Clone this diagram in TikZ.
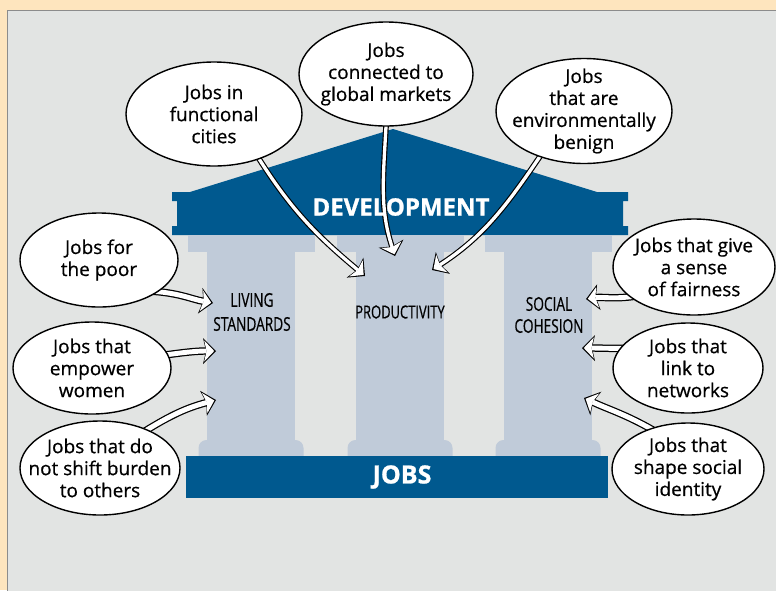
\documentclass[tikz,border=0pt]{standalone}
\usepackage{fontspec}
\setmainfont{Open Sans}[FakeBold=0.6,BoldFeatures={FakeBold=1}]
\newfontfamily\narrowfont{Open Sans}[FakeStretch=0.72,FakeBold=0.5]
\usetikzlibrary{shapes.geometric,arrows.meta}

\definecolor{pagebeige}{HTML}{FEE5BE}
\definecolor{panelgray}{HTML}{E2E4E3}
\definecolor{templeblue}{HTML}{00598F}
\definecolor{pillarblue}{HTML}{C0CBD9}

\pgfdeclarelayer{temple}
\pgfdeclarelayer{links}
\pgfsetlayers{temple,links,main}

\begin{document}
\begin{tikzpicture}[x=1pt,y=-1pt]
  \tikzset{
    bubble/.style={draw,ellipse,fill=white,line width=1.4pt,inner sep=-20pt,align=center,font=\fontsize{19}{22}\selectfont},
    pillarlabel/.style={align=center,font=\narrowfont\fontsize{19}{24}\selectfont},
    jobarrow/.style 2 args={draw=white,line width=#2,shorten >=1.8pt,shorten <=-6pt,
      -{Stealth[length=10pt,width=21pt,inset=2.4pt,line width=0pt]},
      preaction={draw=black,line width=#1,shorten >=0pt,
        -{Stealth[length=13pt,width=26pt,inset=3pt,line width=0pt]}}},
    jobarrow/.default={7.4pt}{4.9pt}
  }
  \useasboundingbox (0,0) rectangle (776,590);

%%%%%%%%%%%%%%%%%%%%%%%%%%
% TEMPLE
\begin{pgfonlayer}{temple}
  \fill[pagebeige] (0,0) rectangle (776,590);
  \filldraw[fill=panelgray,draw=black!45,line width=1.2pt] (7.5,10.5) rectangle (790,600);

  % roof and frieze
  \fill[templeblue] (190,192) -- (393,129) -- (597,192) -- cycle;
  \fill[templeblue] (172,192) -- (628,192) -- (628,201) -- (623,201) -- (623,226) -- (628,226)
    -- (628,235) -- (172,235) -- (172,226) -- (177,226) -- (177,201) -- (172,201) -- cycle;

  % pillars
  \foreach \cx in {251,400,548} {
    \fill[pillarblue] (\cx-63.5,235) rectangle (\cx+63.5,252);
    \fill[pillarblue] (\cx-44,251) rectangle (\cx+44,448);
    \fill[pillarblue,rounded corners=8pt] (\cx-52.5,440) rectangle (\cx+52.5,466);
  }

  % base
  \fill[templeblue] (186,456) rectangle (608,498);
\end{pgfonlayer}

\node[text=white,font=\bfseries\fontsize{24}{24}\selectfont] (NDevelopment) at (401,207) {DEVELOPMENT};
\node[text=white,font=\bfseries\fontsize{25}{25}\selectfont] (NJobs) at (402,477) {JOBS};

\node[pillarlabel] (ls) at (252,312) {LIVING\\STANDARDS};
\node[pillarlabel,font=\narrowfont\fontsize{18}{22}\selectfont] (prod) at (400,312) {PRODUCTIVITY};
\node[pillarlabel,font=\narrowfont\fontsize{19}{22}\selectfont] (sc) at (549,315) {SOCIAL\\COHESION};

%%%%%%%%%%%%%%%%%%%%%%%%%%
% TOP
\node[bubble,minimum width=176pt,minimum height=104pt] (cities) at (214,114) {Jobs in\\functional\\cities};
\node[bubble,minimum width=174pt,minimum height=104pt] (markets) at (386,74) {Jobs\\connected to\\global markets};
\node[bubble,minimum width=176pt,minimum height=105pt] (benign) at (584,111) {Jobs\\that are\\environmentally\\benign};

% LEFT
\node[bubble,minimum width=158pt,minimum height=94pt] (poor) at (99,260) {Jobs for\\the poor};
\node[bubble,minimum width=158pt,minimum height=92pt] (women) at (92,368) {Jobs that\\empower\\women};
\node[bubble,minimum width=160pt,minimum height=94pt] (burden) at (100,468) {Jobs that do\\not shift burden\\to others};

% RIGHT
\node[bubble,minimum width=162pt,minimum height=96pt] (fairness) at (694,267) {Jobs that give\\a sense\\of fairness};
\node[bubble,minimum width=150pt,minimum height=90pt] (networks) at (688,368) {Jobs that\\link to\\networks};
\node[bubble,minimum width=152pt,minimum height=92pt] (identity) at (688,469) {Jobs that\\shape social\\identity};

%%%%%%%%%%%%%%%%%%%%%%%%%%
% tips
\coordinate (ls1) at (213,303);
\coordinate (ls2) at (216,351);
\coordinate (ls3) at (216,400);
\coordinate (pr1) at (365,276);
\coordinate (pr2) at (395,256);
\coordinate (pr3) at (432,270);
\coordinate (sc1) at (586,299);
\coordinate (sc2) at (582,348);
\coordinate (sc3) at (584,398);

\begin{pgfonlayer}{links}
  % DOWN
  \draw[jobarrow={5.6pt}{3.3pt}] (cities.-45) to [out=-58,in=140] (pr1);
  \draw[jobarrow={5.6pt}{3.3pt}] (markets.south) to [out=-93,in=108] (pr2);
  \draw[jobarrow={5.6pt}{3.3pt}] (benign.226) to [out=-124,in=33] (pr3);

  % LEFT
  \draw[jobarrow] (poor.-28) to [out=-4,in=170] (ls1);
  \draw[jobarrow] (women.10) to [out=8,in=180] (ls2);
  \draw[jobarrow] (burden.39) to [out=32,in=195] (ls3);

  % RIGHT
  \draw[jobarrow] (fairness.205) to [out=188,in=8] (sc1);
  \draw[jobarrow] (networks.164) to [out=180,in=0] (sc2);
  \draw[jobarrow] (identity.133) to [out=150,in=-25] (sc3);
\end{pgfonlayer}

\end{tikzpicture}
\end{document}
